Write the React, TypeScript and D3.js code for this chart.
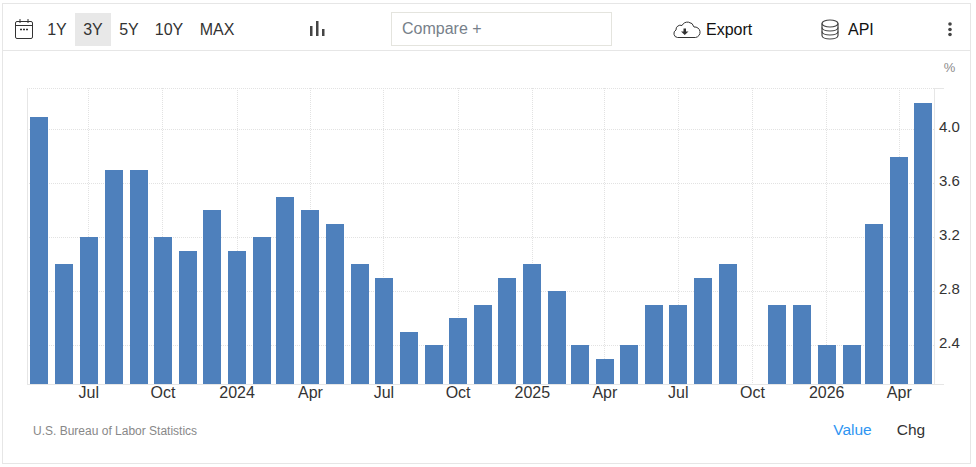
import React, { useEffect, useRef } from 'react';
import * as d3 from 'd3';

const months = [
  '2023-05', '2023-06', '2023-07', '2023-08', '2023-09', '2023-10', '2023-11', '2023-12',
  '2024-01', '2024-02', '2024-03', '2024-04', '2024-05', '2024-06', '2024-07', '2024-08',
  '2024-09', '2024-10', '2024-11', '2024-12', '2025-01', '2025-02', '2025-03', '2025-04',
  '2025-05', '2025-06', '2025-07', '2025-08', '2025-09', '2025-10', '2025-11', '2025-12',
  '2026-01', '2026-02', '2026-03', '2026-04', '2026-05',
];
const values: (number | null)[] = [
  4.09, 3.0, 3.2, 3.7, 3.7, 3.2, 3.1, 3.4,
  3.1, 3.2, 3.5, 3.4, 3.3, 3.0, 2.9, 2.5,
  2.4, 2.6, 2.7, 2.9, 3.0, 2.8, 2.4, 2.3,
  2.4, 2.7, 2.7, 2.9, 3.0, null, 2.7, 2.7,
  2.4, 2.4, 3.3, 3.8, 4.2,
];
const xTickMonths = [
  '2023-07', '2023-10', '2024-01', '2024-04', '2024-07', '2024-10',
  '2025-01', '2025-04', '2025-07', '2025-10', '2026-01', '2026-04',
];
const yTicks = [2.4, 2.8, 3.2, 3.6, 4.0];
const ranges = ['1Y', '3Y', '5Y', '10Y', 'MAX'];
const rangeX = [57, 93, 129, 169, 217];

const parseMonth = d3.utcParse('%Y-%m');
const xLabel = (d: Date) =>
  d.getUTCMonth() === 0 ? d3.utcFormat('%Y')(d) : d3.utcFormat('%b')(d);

const W = 976;
const H = 467;
const left = 27;
const right = 934;
const top = 88;
const bottom = 384;
const font = 'Arial, "Liberation Sans", sans-serif';

const App: React.FC = () => {
  const svgRef = useRef<SVGSVGElement | null>(null);

  useEffect(() => {
    const svg = d3.select(svgRef.current!);
    svg.selectAll('*').remove();

    const dates = months.map((m) => parseMonth(m)!);
    const x = d3.scaleUtc()
      .domain([dates[0], dates[dates.length - 1]])
      .range([39, 923]);
    const y = d3.scaleLinear().domain([2.4, 4.0]).range([345.3, 129.6]);

    // outer frame and toolbar
    svg.append('rect')
      .attr('x', 2.5).attr('y', 3.5).attr('width', 968).attr('height', 460)
      .attr('fill', '#fff').attr('stroke', '#e6e6e6');
    svg.append('line')
      .attr('x1', 3).attr('x2', 970).attr('y1', 50.5).attr('y2', 50.5)
      .attr('stroke', '#e6e6e6');

    // grid
    const grid = svg.append('g')
      .attr('stroke', '#e2e2e2')
      .attr('stroke-dasharray', '1 1');
    grid.selectAll('line.h')
      .data([...yTicks.map((t) => y(t)), top])
      .join('line')
      .attr('class', 'h')
      .attr('x1', left).attr('x2', right)
      .attr('y1', (d) => Math.floor(d) + 0.5).attr('y2', (d) => Math.floor(d) + 0.5);
    grid.selectAll('line.v')
      .data(xTickMonths.map((m) => x(parseMonth(m)!)))
      .join('line')
      .attr('class', 'v')
      .attr('x1', (d) => Math.round(d) + 0.5).attr('x2', (d) => Math.round(d) + 0.5)
      .attr('y1', top).attr('y2', bottom);

    // bars, snapped to whole pixels
    const barW = 18;
    svg.append('g')
      .attr('shape-rendering', 'crispEdges')
      .selectAll('rect')
      .data(values.map((v, i) => ({ v, d: dates[i] })).filter((r) => r.v !== null))
      .join('rect')
      .attr('x', (r) => Math.ceil(x(r.d) - barW / 2 - 0.1))
      .attr('width', barW)
      .attr('y', (r) => Math.round(y(r.v as number)))
      .attr('height', (r) => bottom - Math.round(y(r.v as number)))
      .attr('fill', '#4e80bc');

    // axes
    svg.append('line')
      .attr('x1', left).attr('x2', 944).attr('y1', bottom + 0.5).attr('y2', bottom + 0.5)
      .attr('stroke', '#e6e6e6');
    svg.append('line')
      .attr('x1', left + 0.5).attr('x2', left + 0.5).attr('y1', top).attr('y2', bottom)
      .attr('stroke', '#e6e6e6');
    svg.append('line')
      .attr('x1', right + 0.5).attr('x2', right + 0.5).attr('y1', top).attr('y2', bottom)
      .attr('stroke', '#e6e6e6');
    svg.append('line')
      .attr('x1', right).attr('x2', 944).attr('y1', top + 0.5).attr('y2', top + 0.5)
      .attr('stroke', '#e6e6e6');

    const yAxis = d3.axisRight(y)
      .tickValues(yTicks)
      .tickSize(0)
      .tickPadding(5)
      .tickFormat((d) => d3.format('.1f')(d as number));
    const yG = svg.append('g')
      .attr('transform', `translate(${right},-3)`)
      .call(yAxis);
    yG.select('.domain').remove();
    yG.selectAll('text')
      .attr('font-family', font).attr('font-size', 15).attr('fill', '#333');

    const xAxis = d3.axisBottom(x)
      .tickValues(xTickMonths.map((m) => parseMonth(m)!))
      .tickSize(0)
      .tickPadding(0)
      .tickFormat((d) => xLabel(d as Date));
    const xG = svg.append('g')
      .attr('transform', `translate(0,${bottom + 3})`)
      .call(xAxis);
    xG.select('.domain').remove();
    xG.selectAll('text')
      .attr('font-family', font).attr('font-size', 16).attr('fill', '#333');

    const label = (t: string, tx: number, ty: number, size: number, fill: string, anchor = 'start') =>
      svg.append('text')
        .attr('x', tx).attr('y', ty)
        .attr('font-family', font).attr('font-size', size)
        .attr('fill', fill).attr('text-anchor', anchor)
        .text(t);

    label('%', 949.500, 72, 13, '#8c8c8c', 'middle');
    label('U.S. Bureau of Labor Statistics', 33, 435, 12, '#888');
    label('Value', 852.500, 435, 15.500, '#2e95f2', 'middle');
    label('Chg', 911, 435, 15.500, '#333', 'middle');

    // toolbar: date ranges
    svg.append('rect')
      .attr('x', 75).attr('y', 13).attr('width', 36).attr('height', 33)
      .attr('fill', '#e8e8e8');
    ranges.forEach((r, i) => label(r, rangeX[i], 35, 16, '#333', 'middle'));

    // calendar icon
    const cal = svg.append('g')
      .attr('fill', 'none').attr('stroke', '#333').attr('stroke-width', 1);
    cal.append('rect')
      .attr('x', 15.5).attr('y', 21.5).attr('width', 17).attr('height', 17).attr('rx', 1.5);
    cal.append('path').attr('d', 'M15.5 25.5H32.5M20 19V23M28 19V23');
    cal.append('path').attr('d', 'M20 29.5h2M23 29.5h2M26 29.5h2').attr('stroke-width', 1.5);

    // chart type icon
    const typeHeights = [10, 15, 7];
    svg.append('g').attr('fill', '#444')
      .selectAll('rect')
      .data(typeHeights)
      .join('rect')
      .attr('x', (_, i) => 310 + i * 6)
      .attr('y', (d) => 36 - d)
      .attr('width', 2.5)
      .attr('height', (d) => d);

    // compare box
    svg.append('rect')
      .attr('x', 391.5).attr('y', 12.5).attr('width', 220).attr('height', 33)
      .attr('fill', '#fff').attr('stroke', '#e4e4de');
    label('Compare +', 402, 34, 16, '#777f8a');

    // export
    svg.append('path')
      .attr('d', 'M680 37.500h-2.500a4 4 0 0 1-1.500-7.500 4.400 4.400 0 0 1 6-4.500 6.500 6.500 0 0 1 12 1.500 5 5 0 0 1 1.500 10.500z')
      .attr('fill', 'none').attr('stroke', '#333').attr('stroke-width', 1);
    svg.append('path')
      .attr('d', 'M683.500 28.500h2.500v3h2.500l-3.750 3.500-3.750-3.500h2.500z')
      .attr('fill', '#333');
    label('Export', 706, 35, 16, '#111');

    // api database icon
    const db = svg.append('g')
      .attr('fill', 'none').attr('stroke', '#444').attr('stroke-width', 1.2);
    db.append('ellipse').attr('cx', 830).attr('cy', 23.5).attr('rx', 8).attr('ry', 3.5);
    db.append('path').attr('d', 'M822 23.5V35.500c0 2 3.500 3.500 8 3.500s8-1.500 8-3.500V23.500');
    db.append('path').attr('d', 'M822 27.500c0 2 3.500 3.500 8 3.500s8-1.500 8-3.500M822 31.500c0 2 3.500 3.500 8 3.500s8-1.500 8-3.500');
    label('API', 848, 35, 16, '#111');

    // kebab menu
    svg.append('g').attr('fill', '#444')
      .selectAll('circle')
      .data([24, 29.500, 34.500])
      .join('circle')
      .attr('cx', 950).attr('cy', (d) => d).attr('r', 1.800);
  }, []);

  return (
    <svg
      ref={svgRef}
      width={W}
      height={H}
      style={{ position: 'absolute', left: 0, top: 0, display: 'block' }}
    />
  );
};

export default App;
